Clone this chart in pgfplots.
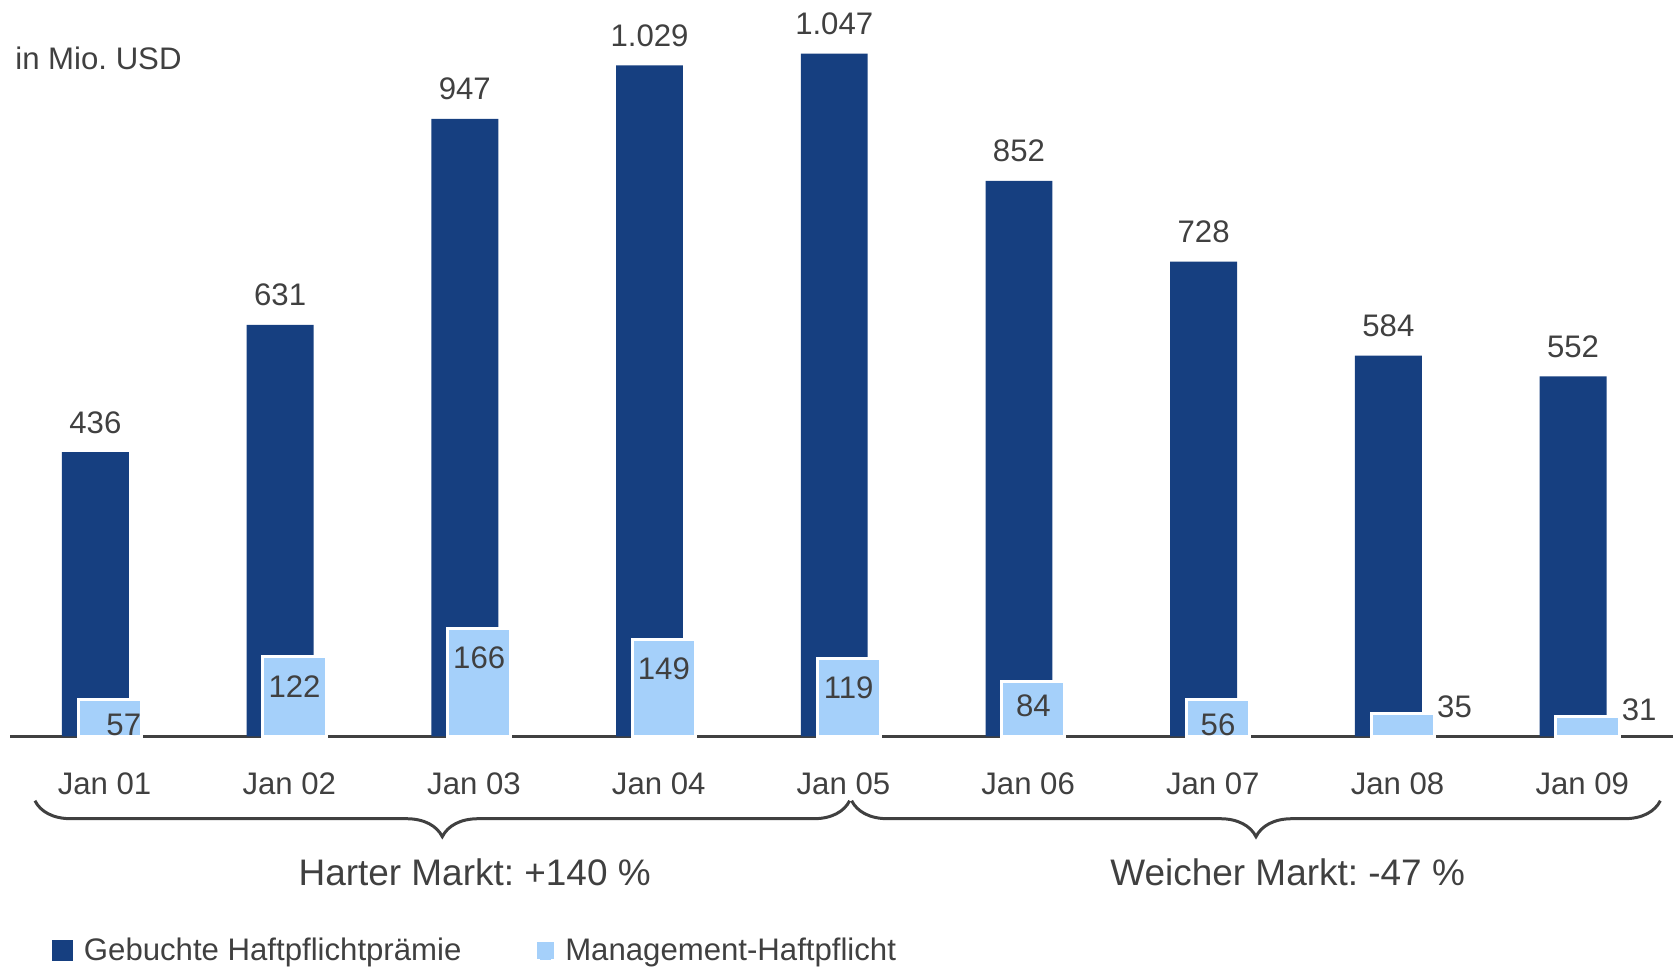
\documentclass[border=0pt]{standalone}
\usepackage{fontspec}
\setmainfont{Liberation Sans}
\usepackage{pgfplots}
\pgfplotsset{compat=1.18}
\usetikzlibrary{decorations.pathreplacing}
\definecolor{dblue}{HTML}{163F80}
\definecolor{lblue}{HTML}{A5D0FA}
\definecolor{tgray}{HTML}{404040}
\tikzset{
  brc/.style={draw=tgray,line width=1.5pt,decorate,decoration={brace,mirror,amplitude=18pt}},
  lbl/.style={inner sep=0pt,text=tgray}
}
\frenchspacing
\begin{document}
\begin{tikzpicture}[font=\fontsize{15.6}{18}\selectfont,text=tgray]
\begin{axis}[
  scale only axis,
  width=832.5pt, height=359.15pt,
  xmin=-0.5, xmax=8.5, ymin=0, ymax=1100,
  axis x line*=bottom, axis y line=none,
  x axis line style={draw=tgray,line width=1.4pt},
  xtick={0,...,8},
  xticklabels={Jan 01,Jan 02,Jan 03,Jan 04,Jan 05,Jan 06,Jan 07,Jan 08,Jan 09},
  major tick length=0pt,
  xticklabel style={anchor=base,inner sep=0pt,yshift=-29pt,xshift=1pt,text=tgray},
  ytick=\empty,
  clip=false,
  /pgf/number format/assume math mode=true,
  /pgf/number format/1000 sep={.},
  /pgf/number format/fixed,
  legend style={at={(0.0249,-0.2989)},anchor=west,draw=none,fill=none,
    inner sep=0pt,legend columns=2,nodes={inner sep=0pt,text=tgray},
    font=\fontsize{15.6}{18}\selectfont,
    /tikz/every odd column/.append style={column sep=5.5pt},
    /tikz/every even column/.append style={column sep=38pt}},
]
% gebuchte Praemie
\addplot[ybar,bar width=33.5pt,bar shift=-3.6pt,fill=dblue,draw=none,
  nodes near coords,nodes near coords style={lbl,anchor=base,yshift=9.5pt,xshift=-3.6pt},
  legend image code/.code={\fill[dblue] (0pt,-5.25pt) rectangle (10.5pt,5.25pt);}]
  coordinates {(0,436) (1,631) (2,947) (3,1029) (4,1047) (5,852) (6,728) (7,584) (8,552)};
\addlegendentry{Gebuchte Haftpflichtprämie}
% Management-Haftpflicht, split only for label placement
\addplot[ybar,bar width=31.65pt,bar shift=3.6pt,fill=lblue,draw=white,line width=1.5pt,
  nodes near coords,nodes near coords style={lbl,anchor=north,yshift=-8.5pt,xshift=3.6pt},
  legend image code/.code={\path (0pt,-5.25pt) rectangle (7pt,5.25pt);
    \fill[lblue] (0pt,-3.5pt) rectangle (7pt,3.5pt);}]
  coordinates {(1,122) (2,166) (3,149) (4,119)};
\addlegendentry{Management-Haftpflicht}
\addplot[forget plot,ybar,bar width=31.65pt,bar shift=3.6pt,fill=lblue,draw=white,line width=1.5pt,
  nodes near coords,nodes near coords style={lbl,anchor=north,yshift=-6pt,xshift=3.6pt}]
  coordinates {(5,84) (6,56)};
\addplot[forget plot,ybar,bar width=31.65pt,bar shift=3.6pt,fill=lblue,draw=white,line width=1.5pt,
  nodes near coords,nodes near coords style={lbl,anchor=north,yshift=-6.5pt,xshift=10.6pt}]
  coordinates {(0,57)};
\addplot[forget plot,ybar,bar width=31.65pt,bar shift=3.6pt,fill=lblue,draw=white,line width=1.5pt,
  nodes near coords,nodes near coords style={lbl,anchor=base west,yshift=-2pt,xshift=20.1pt}]
  coordinates {(7,35) (8,31)};

\node[lbl,anchor=base west] at (axis cs:-0.4743,1023.3) {in Mio. USD};
\draw[brc] (axis cs:-0.3662,-98.77) -- (axis cs:4.0446,-98.77);
\draw[brc] (axis cs:4.0554,-98.77) -- (axis cs:8.4335,-98.77);
\node[lbl,anchor=base,font=\fontsize{18.5}{22}\selectfont] at (axis cs:2.0143,-228.9) {Harter Markt: +140 \%};
\node[lbl,anchor=base,font=\fontsize{18.5}{22}\selectfont] at (axis cs:6.416,-228.9) {Weicher Markt: -47 \%};
\path (axis cs:-0.5554,1129.4) rectangle (axis cs:8.4932,-354.5);
\end{axis}
\end{tikzpicture}
\end{document}
